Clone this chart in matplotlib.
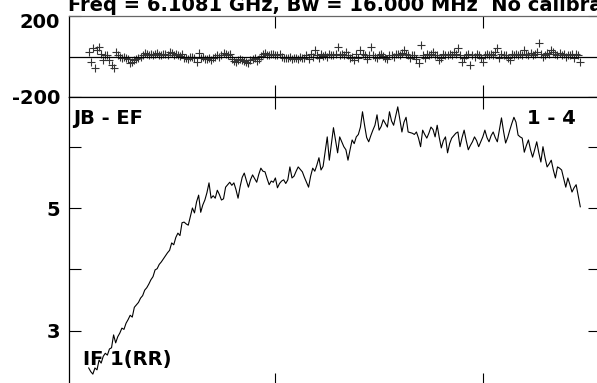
import numpy as np
import matplotlib
matplotlib.use("Agg")
import matplotlib.pyplot as plt
import matplotlib.transforms as mtransforms

plt.rcParams['font.family'] = ['DejaVu Sans']
plt.rcParams['font.weight'] = 'bold'
plt.rcParams['axes.unicode_minus'] = False

# channels 10..247
first_chan = 10

amp = [
    2.39, 2.33, 2.29, 2.39, 2.36, 2.52, 2.47, 2.58, 2.63, 2.60,
    2.70, 2.72, 2.93, 2.80, 2.90, 2.96, 3.04, 3.02, 3.12, 3.18,
    3.25, 3.22, 3.38, 3.42, 3.46, 3.53, 3.57, 3.66, 3.70, 3.76,
    3.83, 3.88, 3.99, 4.01, 4.08, 4.12, 4.17, 4.22, 4.27, 4.31,
    4.43, 4.40, 4.52, 4.59, 4.55, 4.76, 4.77, 4.74, 4.72, 4.86,
    5.00, 4.92, 5.10, 5.21, 4.93, 5.05, 5.13, 5.25, 5.41, 5.16,
    5.20, 5.16, 5.29, 5.22, 5.13, 5.15, 5.34, 5.38, 5.42, 5.37,
    5.41, 5.30, 5.16, 5.35, 5.50, 5.57, 5.45, 5.34, 5.46, 5.54,
    5.48, 5.42, 5.55, 5.65, 5.60, 5.59, 5.48, 5.38, 5.44, 5.42,
    5.49, 5.33, 5.40, 5.44, 5.46, 5.40, 5.46, 5.67, 5.49, 5.52,
    5.60, 5.67, 5.63, 5.59, 5.50, 5.42, 5.34, 5.52, 5.65, 5.60,
    5.70, 5.82, 5.62, 5.68, 5.92, 6.16, 5.78, 6.05, 6.31, 6.10,
    5.90, 6.16, 6.08, 6.00, 5.95, 5.78, 5.95, 6.11, 6.05, 6.16,
    6.20, 6.32, 6.57, 6.35, 6.15, 6.08, 6.18, 6.27, 6.35, 6.52,
    6.27, 6.33, 6.44, 6.38, 6.32, 6.57, 6.42, 6.35, 6.50, 6.65,
    6.45, 6.24, 6.40, 6.48, 6.24, 6.23, 6.22, 6.20, 6.24, 6.14,
    6.00, 6.27, 6.20, 6.14, 6.22, 6.32, 6.28, 6.16, 6.35, 6.15,
    5.98, 6.10, 6.16, 5.90, 6.05, 6.14, 6.18, 6.22, 6.24, 6.00,
    6.15, 6.27, 6.10, 5.95, 6.02, 6.08, 6.16, 6.10, 6.00, 6.08,
    6.16, 6.27, 6.15, 6.08, 6.18, 6.24, 6.15, 6.08, 6.28, 6.47,
    6.25, 6.06, 6.15, 6.27, 6.38, 6.48, 6.40, 6.19, 6.16, 6.14,
    5.91, 6.02, 6.11, 5.95, 5.83, 5.95, 6.08, 5.90, 5.75, 6.00,
    5.82, 5.67, 5.72, 5.78, 5.62, 5.49, 5.67, 5.65, 5.62, 5.48,
    5.34, 5.49, 5.38, 5.26, 5.33, 5.38, 5.20, 5.02,
]

phase = [
    22, -28, 40, -57, 32, 47, 10, -15, 5, 8,
    -17, -42, -57, 22, 7, 0, -5, -2, -7, -12,
    -32, -27, -17, -10, -7, -2, 5, 17, 10, 8,
    12, 6, 10, 15, 8, 5, 12, 10, 7, 22,
    15, 5, 10, 8, 3, 12, -7, -5, -10, -3,
    0, -5, -27, 17, -8, -2, -12, -10, -5, -15,
    -8, 0, 5, -3, 8, 17, 12, 5, 10, -10,
    -20, -27, -15, -12, -17, -20, -27, -32, -15, -10,
    -5, -22, -12, 2, 10, 17, 8, 5, 12, 10,
    5, 8, 10, -2, -5, -8, -5, 0, -10, -7,
    -5, -10, 0, -8, -5, 5, -12, 10, -3, 32,
    8, -5, 10, 3, 5, -2, 12, 8, 5, 10,
    47, 5, 10, 8, 22, 5, -8, -2, -17, 10,
    -5, 32, 12, 5, -10, 8, 47, 5, -2, -7,
    5, 10, 3, -5, -12, 8, 5, 0, 12, 10,
    8, 15, 32, 10, 5, -7, 5, 8, -10, -32,
    57, 5, -5, 10, 8, 12, 22, 5, 8, -17,
    -5, 10, 5, 8, 12, 5, 20, 10, 42, 5,
    -27, -5, 8, 10, -42, 5, 0, 10, 5, -8,
    -27, 5, 12, 8, 10, 5, 20, 42, -7, 10,
    5, 8, -5, -17, 10, 5, 12, 8, 10, 5,
    32, 10, 5, 15, 8, 12, 20, 67, 10, -2,
    5, 15, 10, 32, 20, 12, 8, 15, 5, 10,
    -2, 5, 8, 12, -5, 10, 5, -27,
]

chan = np.arange(first_chan, first_chan + len(amp))

title = "Freq = 6.1081 GHz, Bw = 16.000 MHz  No calibration"
baseline_label = "JB - EF"
scan_label = "1 - 4"
if_label = "IF 1(RR)"

W, H = 597, 383
fig = plt.figure(figsize=(W / 100, H / 100), dpi=100)

left = 69 / W
width = (600 - 69) / W
ax1 = fig.add_axes([left, 1 - 97 / H, width, (97 - 16) / H])
ax2 = fig.add_axes([left, 1 - 385 / H, width, (385 - 97) / H])

tick_kw = dict(direction='in', length=8.6, width=0.8, top=True, right=True,
               labelsize=14, pad=6.5)

# phase panel
ax1.plot(chan, phase, linestyle='none', marker='+', markersize=6,
         markeredgewidth=0.8, color='0.2')
ax1.axhline(0, color='black', lw=0.9)
ax1.set_xlim(0.5, 256.5)
ax1.set_ylim(-200, 200)
ax1.set_yticks([-200, 200])
ax1.set_yticklabels(['-200', '200'])
ax1.set_xticks([100, 200])
ax1.set_xticklabels([])
ax1.tick_params(**tick_kw)
ax1.spines['top'].set_color('0.4')
for s in ax1.spines.values():
    s.set_linewidth(0.9)
lab = ax1.get_yticklabels()[1]
lab.set_transform(lab.get_transform() +
                  mtransforms.ScaledTranslation(0, -0.04, fig.dpi_scale_trans))

# amplitude panel
ax2.plot(chan, amp, color='black', lw=0.8)
ax2.set_xlim(0.5, 256.5)
ax2.set_ylim(5 - 177 / 61.3, 5 + 111 / 61.3)
ax2.set_yticks([3, 4, 5, 6])
ax2.set_yticklabels(['3', '', '5', ''])
ax2.set_xticks([100, 200])
ax2.set_xticklabels([])
ax2.tick_params(**tick_kw)
for s in ax2.spines.values():
    s.set_linewidth(0.9)

fig.text(68 / W, 1 - 11 / H, title, fontsize=14, fontweight='bold',
         ha='left', va='baseline')
fig.text(73 / W, 1 - 124.5 / H, baseline_label, fontsize=14,
         fontweight='bold', ha='left', va='baseline')
fig.text(527 / W, 1 - 124.5 / H, scan_label, fontsize=14,
         fontweight='bold', ha='left', va='baseline')
fig.text(83 / W, 1 - 365 / H, if_label, fontsize=14,
         fontweight='bold', ha='left', va='baseline')

fig.savefig("out.png", dpi=100)
